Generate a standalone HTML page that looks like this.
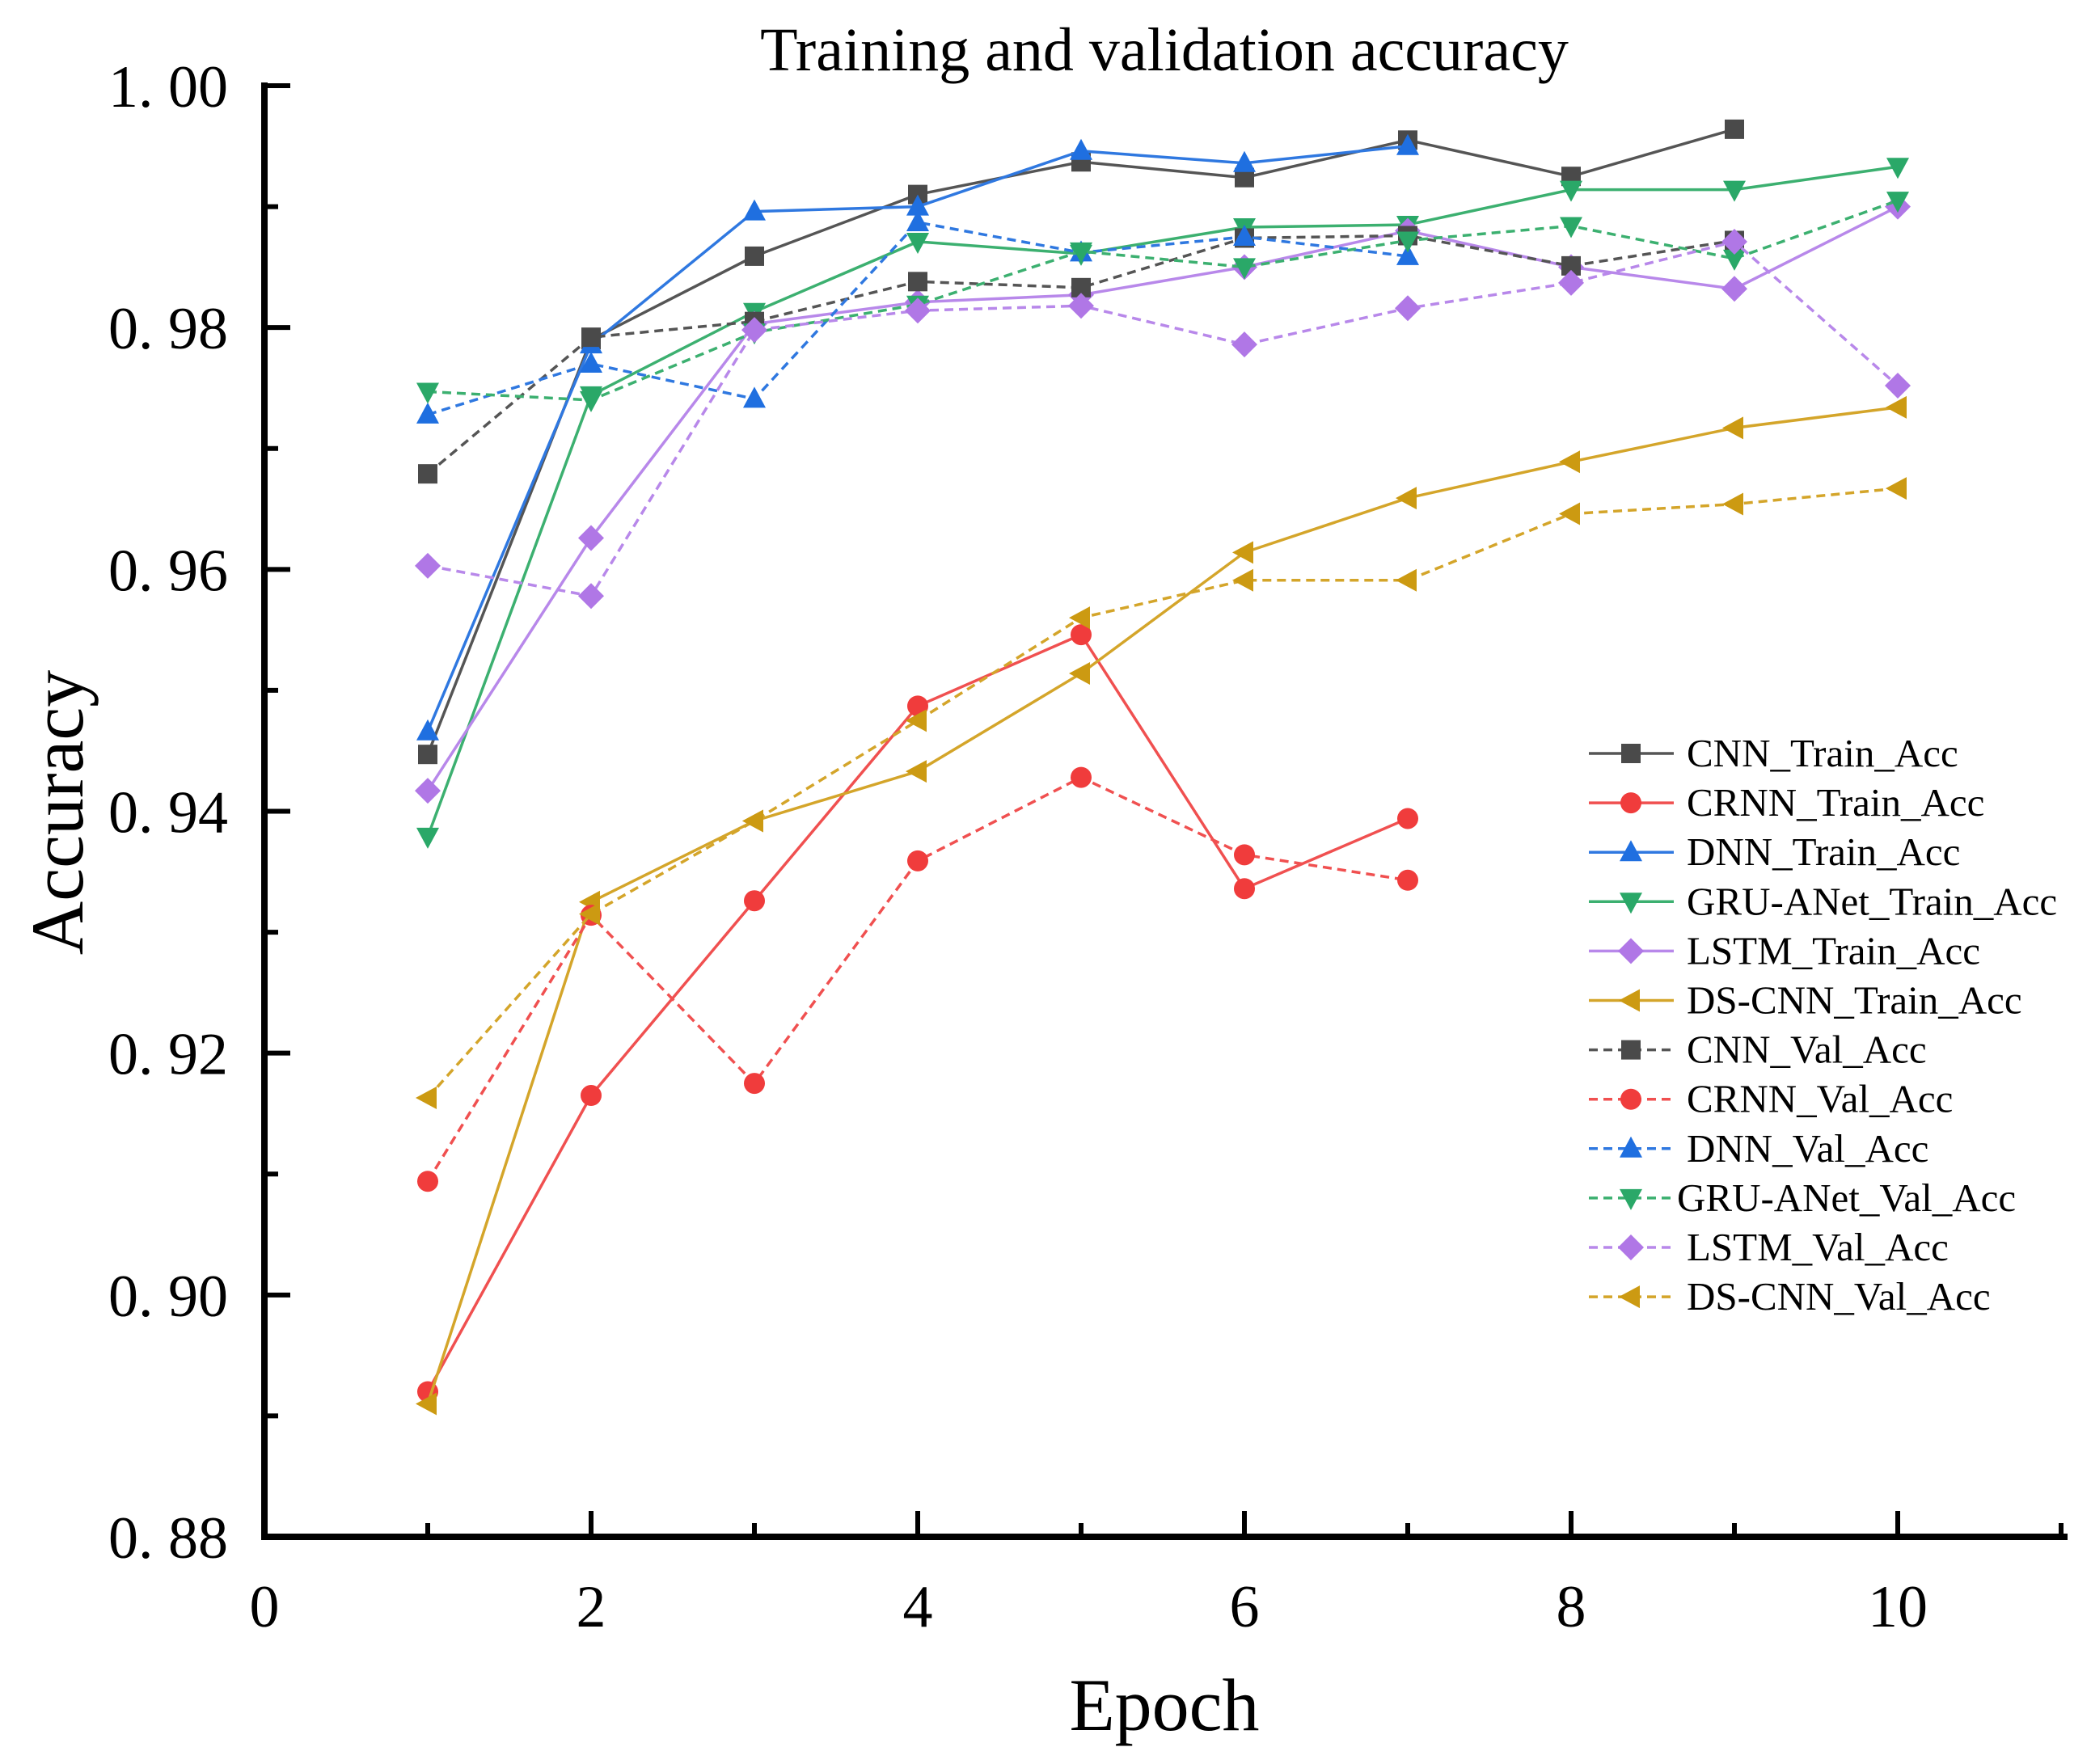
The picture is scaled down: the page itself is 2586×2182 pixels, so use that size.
<!DOCTYPE html>
<html><head><meta charset="utf-8"><style>
html,body{margin:0;padding:0;background:#fff}
svg{display:block}
text{font-family:"Liberation Serif",serif;fill:#000}
</style></head><body>
<svg id="chart" width="2586" height="2182" viewBox="0 0 2586 2182" xmlns="http://www.w3.org/2000/svg">
<text x="1440" y="87" font-size="76" text-anchor="middle">Training and validation accuracy</text>
<text x="1440" y="2140" font-size="92" text-anchor="middle">Epoch</text>
<text x="0" y="0" font-size="92" text-anchor="middle" transform="translate(102,1005) rotate(-90)">Accuracy</text>
<g id="axes"></g>
<g id="series"></g>
<g id="legend"></g>
</svg>
<script>
const epochs=[1,2,3,4,5,6,7,8,9,10];
const xTicks=[0,2,4,6,8,10];
const yTicks=[0.88,0.90,0.92,0.94,0.96,0.98,1.00];
const yTickLabels=["0. 88","0. 90","0. 92","0. 94","0. 96","0. 98","1. 00"];
const cnnTrain=[0.9447,0.9790,0.9859,0.9910,0.9937,0.9924,0.9955,0.9925,0.9964];
const crnnTrain=[0.8920,0.9165,0.9326,0.9487,0.9546,0.9336,0.9394];
const dnnTrain=[0.9466,0.9786,0.9896,0.9900,0.9946,0.9936,0.9950];
const gruTrain=[0.9379,0.9744,0.9813,0.9871,0.9861,0.9883,0.9885,0.9914,0.9914,0.9933];
const lstmTrain=[0.9417,0.9626,0.9803,0.9821,0.9827,0.9850,0.9880,0.9850,0.9832,0.9900];
const dsTrain=[0.8910,0.9325,0.9392,0.9433,0.9514,0.9614,0.9659,0.9689,0.9717,0.9734];
const cnnVal=[0.9679,0.9792,0.9805,0.9838,0.9833,0.9874,0.9876,0.9851,0.9872];
const crnnVal=[0.9094,0.9314,0.9175,0.9359,0.9428,0.9364,0.9343];
const dnnVal=[0.9728,0.9770,0.9741,0.9887,0.9862,0.9875,0.9859];
const gruVal=[0.9747,0.9740,0.9796,0.9819,0.9863,0.9850,0.9872,0.9884,0.9857,0.9905];
const lstmVal=[0.9603,0.9578,0.9798,0.9814,0.9818,0.9786,0.9816,0.9837,0.9871,0.9752];
const dsVal=[0.9163,0.9315,0.9392,0.9475,0.9560,0.9591,0.9591,0.9646,0.9654,0.9667];
const seriesNames=["CNN_Train_Acc","CRNN_Train_Acc","DNN_Train_Acc","GRU-ANet_Train_Acc","LSTM_Train_Acc","DS-CNN_Train_Acc","CNN_Val_Acc","CRNN_Val_Acc","DNN_Val_Acc","GRU-ANet_Val_Acc","LSTM_Val_Acc","DS-CNN_Val_Acc"];
const seriesValues=[cnnTrain,crnnTrain,dnnTrain,gruTrain,lstmTrain,dsTrain,cnnVal,crnnVal,dnnVal,gruVal,lstmVal,dsVal];
const colors=["#4a4a4a","#f03c3c","#1f6fe0","#2aa868","#b077e6","#cc9a12"];
const lineColors=["#555","#f05050","#2f78e0","#3cb070","#b888ea","#d4a52a"];
const shapes=["square","circle","up","down","diamond","left"];

const NS="http://www.w3.org/2000/svg";
const X0=327,XS=202,Y1=106,Y0=1901;
function xs(v){return X0+v*XS;}
function ys(v){return Y0-(v-0.88)/0.12*(Y0-Y1);}
function mk(tag,attrs,parent){const e=document.createElementNS(NS,tag);for(const k in attrs)e.setAttribute(k,attrs[k]);parent.appendChild(e);return e;}
const axes=document.getElementById('axes');
let l=mk('line',{x1:X0,y1:Y1-4,x2:X0,y2:Y0+4,stroke:'#000','stroke-width':8},axes);


l=mk('line',{x1:X0-4,y1:Y0,x2:2557,y2:Y0,stroke:'#000','stroke-width':8},axes);


for(let v=0;v<=11;v++){
  const major=v%2===0;
  const t=mk('line',{x1:xs(v),y1:Y0,x2:xs(v),y2:Y0-(major?32:17),stroke:'#000','stroke-width':6},axes);
  
  
}
xTicks.forEach(v=>{
  const t=mk('text',{x:xs(v),y:2012,'font-size':74,'text-anchor':'middle'},axes);t.textContent=String(v);
  
  
});
for(let i=0;i<13;i++){
  const v=0.88+i*0.01;const major=i%2===0;
  const t=mk('line',{x1:X0,y1:ys(v),x2:X0+(major?32:17),y2:ys(v),stroke:'#000','stroke-width':6},axes);
  
  
}
yTicks.forEach((v,i)=>{
  const t=mk('text',{x:282,y:ys(v)+26,'font-size':74,'text-anchor':'end'},axes);t.textContent=yTickLabels[i];
  
  
});
function marker(shape,cx,cy,fill,parent){
  const s=13;let e;
  if(shape==='square')e=mk('rect',{x:cx-s+1,y:cy-s+1,width:2*s-2,height:2*s-2,fill:fill},parent);
  else if(shape==='circle')e=mk('circle',{cx:cx,cy:cy,r:s,fill:fill},parent);
  else if(shape==='up')e=mk('polygon',{points:`${cx},${cy-s-2} ${cx-s-1},${cy+s-2} ${cx+s+1},${cy+s-2}`,fill:fill},parent);
  else if(shape==='down')e=mk('polygon',{points:`${cx},${cy+s+2} ${cx-s-1},${cy-s+2} ${cx+s+1},${cy-s+2}`,fill:fill},parent);
  else if(shape==='diamond')e=mk('polygon',{points:`${cx},${cy-s-3} ${cx+s+3},${cy} ${cx},${cy+s+3} ${cx-s-3},${cy}`,fill:fill},parent);
  else e=mk('polygon',{points:`${cx-s-2},${cy} ${cx+s-2},${cy-s-1} ${cx+s-2},${cy+s+1}`,fill:fill},parent);
  return e;
}
const sg=document.getElementById('series');
const lg=document.getElementById('legend');
seriesValues.forEach((vals,si)=>{
  const ci=si%6;const dashed=si>=6;
  const g=mk('g',{},sg);
  
  
  const pts=vals.map((v,i)=>xs(epochs[i])+','+ys(v)).join(' ');
  const pl=mk('polyline',{points:pts,fill:'none',stroke:lineColors[ci],'stroke-width':3.5,'stroke-dasharray':dashed?'11 7':'none'},g);
  
  
  vals.forEach((v,i)=>{
    const m=marker(shapes[ci],xs(epochs[i]),ys(v),colors[ci],g);
    
    
  });
  const ly=932+si*61.1;
  const le=mk('g',{},lg);
  
  
  mk('line',{x1:1965,y1:ly,x2:2070,y2:ly,stroke:lineColors[ci],'stroke-width':3.5,'stroke-dasharray':dashed?'11 7':'none'},le);
  marker(shapes[ci],2017,ly,colors[ci],le);
  const tx=mk('text',{x:si===9?2074:2086,y:ly+16,'font-size':49},le);
  tx.textContent=seriesNames[si];
});
</script>
</body></html>
